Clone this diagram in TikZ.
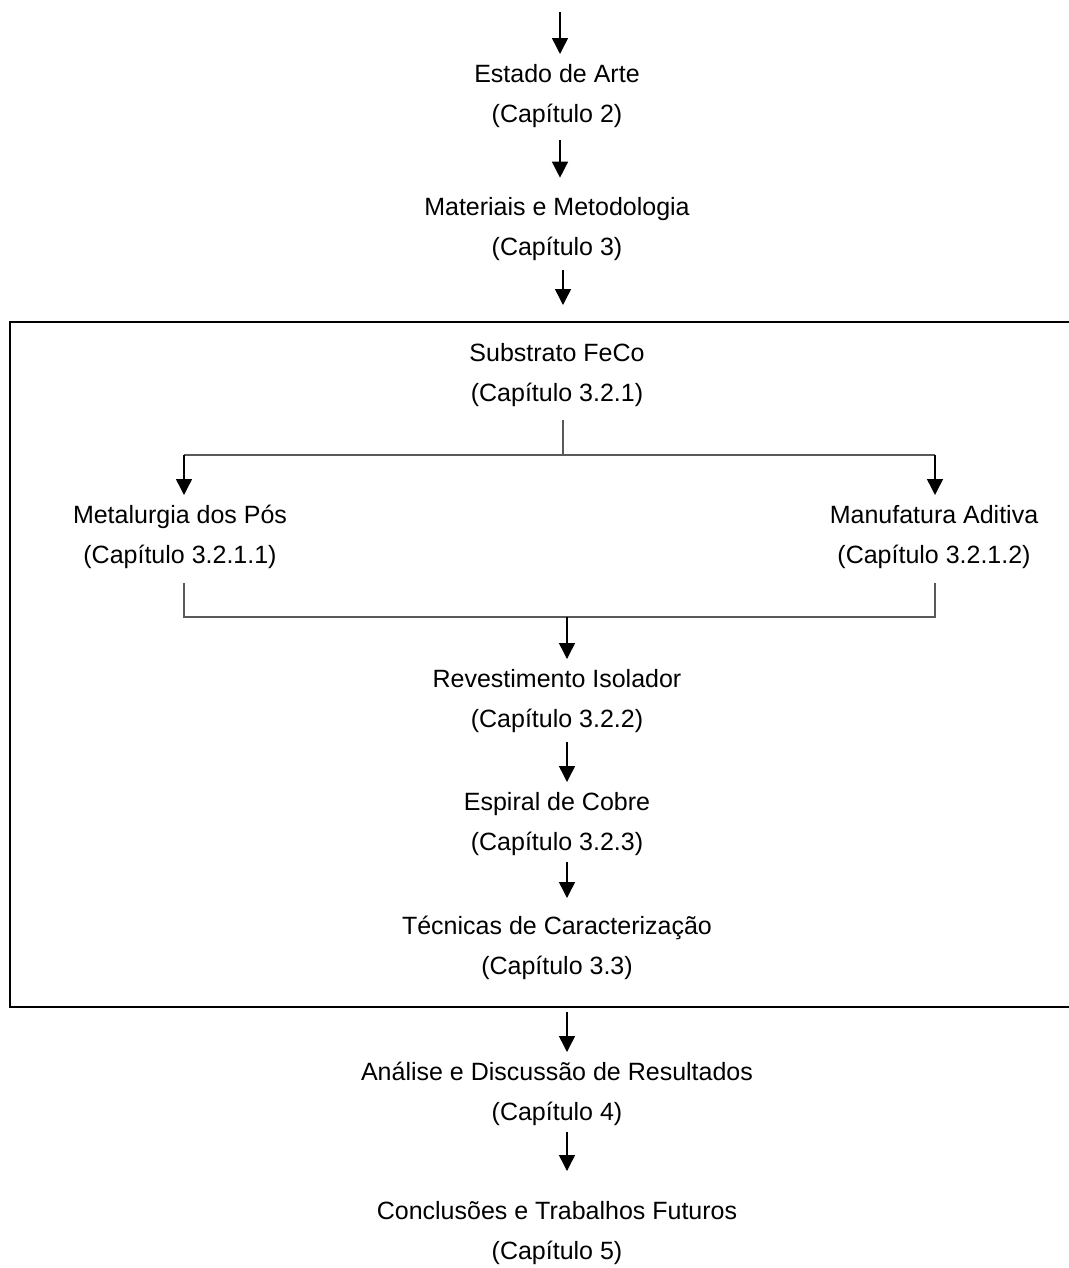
\documentclass[tikz,border=0pt]{standalone}
\usepackage{fontspec}
\setmainfont{Liberation Sans}
\usetikzlibrary{arrows.meta,calc}
\begin{document}
\begin{tikzpicture}[x=0.75pt,y=-0.75pt,
  txt/.style={align=center,inner sep=0pt,outer sep=0pt,font=\fontsize{18.75}{30}\selectfont},
  arr/.style={draw=black,line width=1.1pt,-{Triangle[width=12pt,length=12pt]}},
  gline/.style={draw=black!65,line width=1.5pt},
  frame/.style={draw=black,line width=2.2pt}]
\useasboundingbox (0,0) rectangle (1069,1268);
% column coordinates
\coordinate (cA) at (560,12);
\coordinate (cB) at (563,0);
\coordinate (cC) at (567,0);
% nodes
\node[txt] (est) at (557,94) {\strut Estado de Arte\\\strut (Capítulo 2)};
\node[txt] (mat) at (557,227) {\strut Materiais e Metodologia\\\strut (Capítulo 3)};
\node[txt] (sub) at (557,373) {\strut Substrato FeCo\\\strut (Capítulo 3.2.1)};
\node[txt] (met) at (180,535) {\strut Metalurgia dos Pós\\\strut (Capítulo 3.2.1.1)};
\node[txt] (man) at (934,535) {\strut Manufatura Aditiva\\\strut (Capítulo 3.2.1.2)};
\node[txt] (rev) at (557,699) {\strut Revestimento Isolador\\\strut (Capítulo 3.2.2)};
\node[txt] (esp) at (557,822) {\strut Espiral de Cobre\\\strut (Capítulo 3.2.3)};
\node[txt] (tec) at (557,946) {\strut Técnicas de Caracterização\\\strut (Capítulo 3.3)};
\node[txt] (ana) at (557,1092) {\strut Análise e Discussão de Resultados\\\strut (Capítulo 4)};
\node[txt] (con) at (557,1231) {\strut Conclusões e Trabalhos Futuros\\\strut (Capítulo 5)};
% frame
\draw[frame] (1100,322) -- (10,322) -- (10,1007) -- (1100,1007);
% connectors
\draw[arr] (cA) -- (est.north -| cA);
\draw[arr,shorten <=4.5pt,shorten >=7pt] (est.south -| cA) -- (mat.north -| cA);
\draw[arr,shorten <=2.5pt,shorten >=21pt] (mat.south -| cB) -- (sub.north -| cB);
\draw[gline] ($(sub.south -| cB)+(0,7)$) -- ($(sub.south -| cB)+(0,42)$) coordinate (bj);
\draw[gline] ($(bj -| met.north)+(4,0)$) -- ($(bj -| man.north)+(1,0)$);
\draw[arr] ($(bj -| met.north)+(4,0)$) -- ($(met.north)+(4,0)$);
\draw[arr] ($(bj -| man.north)+(1,0)$) -- ($(man.north)+(1,0)$);
\draw[gline] ($(met.south)+(4,8)$) -- ($(met.south)+(4,42)$) coordinate (mj)
  -- ($(man.south)+(1,42)$) -- ($(man.south)+(1,8)$);
\draw[arr] (mj -| cC) -- (rev.north -| cC);
\draw[arr,shorten <=2pt] (rev.south -| cC) -- (esp.north -| cC);
\draw[arr,shorten >=6pt] (esp.south -| cC) -- (tec.north -| cC);
\draw[arr,shorten <=19.5pt] (tec.south -| cC) -- (ana.north -| cC);
\draw[arr,shorten >=15pt] (ana.south -| cC) -- (con.north -| cC);
\end{tikzpicture}
\end{document}
